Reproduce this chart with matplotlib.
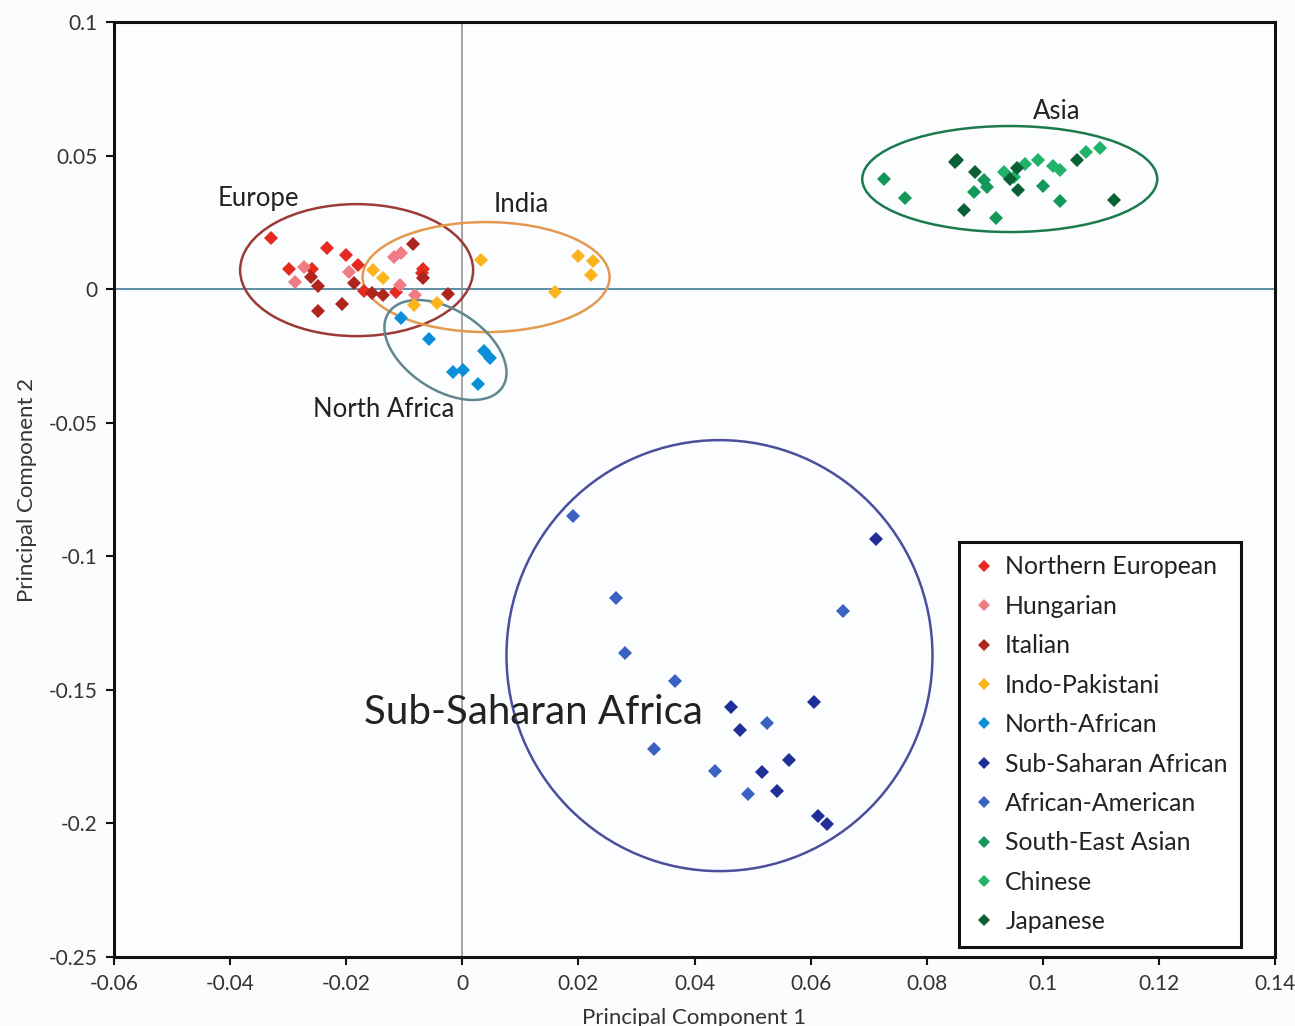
import matplotlib
matplotlib.use("Agg")
import matplotlib.pyplot as plt
from matplotlib.patches import Ellipse
from matplotlib.lines import Line2D
from matplotlib.transforms import ScaledTranslation

plt.rcParams['font.family'] = ['Lato', 'DejaVu Sans']

# ---- PCA coordinates per population ----
northern_european_x = [-0.0329, -0.0233, -0.0200, -0.0179, -0.0299, -0.0259, -0.0067, -0.0170, -0.0114, -0.0070]
northern_european_y = [0.0191, 0.0155, 0.0127, 0.0090, 0.0077, 0.0077, 0.0077, -0.0006, -0.0010, 0.0060]

hungarian_x = [-0.0118, -0.0105, -0.0273, -0.0288, -0.0196, -0.0107, -0.0081]
hungarian_y = [0.0120, 0.0135, 0.0083, 0.0027, 0.0065, 0.0015, -0.0022]

italian_x = [-0.0085, -0.0068, -0.0249, -0.0186, -0.0156, -0.0136, -0.0025, -0.0207, -0.0248, -0.0260]
italian_y = [0.0167, 0.0042, 0.0011, 0.0021, -0.0014, -0.0022, -0.0020, -0.0056, -0.0082, 0.0045]

indo_pakistani_x = [-0.0154, -0.0137, -0.0084, -0.0044, 0.0032, 0.0200, 0.0226, 0.0222, 0.0159]
indo_pakistani_y = [0.0071, 0.0040, -0.0060, -0.0051, 0.0109, 0.0125, 0.0105, 0.0052, -0.0010]

north_african_x = [-0.0106, -0.0058, 0.0038, 0.0047, -0.0016, 0.0002, 0.0027]
north_african_y = [-0.0110, -0.0187, -0.0231, -0.0257, -0.0312, -0.0301, -0.0356]

sub_saharan_x = [0.0713, 0.0463, 0.0479, 0.0606, 0.0563, 0.0516, 0.0542, 0.0613, 0.0628]
sub_saharan_y = [-0.0937, -0.1566, -0.1649, -0.1545, -0.1761, -0.1807, -0.1878, -0.1972, -0.2004]

african_american_x = [0.0191, 0.0264, 0.0281, 0.0366, 0.0331, 0.0656, 0.0525, 0.0435, 0.0492]
african_american_y = [-0.0850, -0.1158, -0.1364, -0.1466, -0.1720, -0.1206, -0.1624, -0.1803, -0.1891]

south_east_asian_x = [0.0727, 0.0762, 0.0899, 0.0881, 0.0920, 0.1000, 0.1029, 0.0903]
south_east_asian_y = [0.0414, 0.0340, 0.0408, 0.0364, 0.0265, 0.0386, 0.0329, 0.0383]

chinese_x = [0.0933, 0.0970, 0.0992, 0.1018, 0.1029, 0.1075, 0.1098, 0.0950]
chinese_y = [0.0439, 0.0470, 0.0483, 0.0460, 0.0446, 0.0514, 0.0530, 0.0420]

japanese_x = [0.0849, 0.0853, 0.0884, 0.0956, 0.0944, 0.0958, 0.1058, 0.1123, 0.0865]
japanese_y = [0.0477, 0.0485, 0.0439, 0.0452, 0.0414, 0.0371, 0.0483, 0.0333, 0.0296]

populations = ["Northern European", "Hungarian", "Italian", "Indo-Pakistani", "North-African",
               "Sub-Saharan African", "African-American", "South-East Asian", "Chinese", "Japanese"]
pop_x = [northern_european_x, hungarian_x, italian_x, indo_pakistani_x, north_african_x,
         sub_saharan_x, african_american_x, south_east_asian_x, chinese_x, japanese_x]
pop_y = [northern_european_y, hungarian_y, italian_y, indo_pakistani_y, north_african_y,
         sub_saharan_y, african_american_y, south_east_asian_y, chinese_y, japanese_y]
pop_colors = ["#e62a20", "#ef7c84", "#b0241e", "#fbb41c", "#0b8fd8",
              "#202f98", "#3a62c0", "#12995a", "#22b36a", "#0b5f34"]

x_ticks = [-0.06, -0.04, -0.02, 0, 0.02, 0.04, 0.06, 0.08, 0.1, 0.12, 0.14]
x_tick_labels = ["-0.06", "-0.04", "-0.02", "0", "0.02", "0.04", "0.06", "0.08", "0.1", "0.12", "0.14"]
y_ticks = [-0.25, -0.2, -0.15, -0.1, -0.05, 0, 0.05, 0.1]
y_tick_labels = ["-0.25", "-0.2", "-0.15", "-0.1", "-0.05", "0", "0.05", "0.1"]

# ---- cluster outlines: data-space centre, size in inches, angle ----
regions = [
    dict(name="Europe", center=(-0.0182, 0.0071), w=2.33, h=1.32, angle=0, color="#9c3b36",
         label_xy=(-0.0351, 0.0341), fs=18.5),
    dict(name="India", center=(0.0041, 0.0045), w=2.47, h=1.10, angle=0, color="#e39a4e",
         label_xy=(0.0102, 0.0318), fs=18.5),
    dict(name="North Africa", center=(-0.0029, -0.0228), w=1.36, h=0.80, angle=-33, color="#62868e",
         label_xy=(-0.0136, -0.0449), fs=18.5),
    dict(name="Asia", center=(0.0943, 0.0412), w=2.95, h=1.06, angle=0, color="#1c7a4c",
         label_xy=(0.1023, 0.0666), fs=18.5),
    dict(name="Sub-Saharan Africa", center=(0.0443, -0.1372), w=4.26, h=4.31, angle=0, color="#4a4f9c",
         label_xy=(0.0122, -0.1584), fs=29),
]

fig = plt.figure(figsize=(12.95, 10.26), dpi=100, facecolor="#fbfcfe")
ax = fig.add_axes([0.088, 0.0673, 0.8966, 0.9113])
ax.set_facecolor("#fcfdff")

ax.set_xlim(-0.06, 0.14)
ax.set_ylim(-0.25, 0.1)

ax.axhline(0, color="#5c8fa6", lw=1.4, zorder=1)
ax.axvline(0, color="#8c8c8c", lw=1.1, zorder=1)

for name, xs, ys, c in zip(populations, pop_x, pop_y, pop_colors):
    ax.plot(xs, ys, linestyle="none", marker="D", markersize=7.2, color=c,
            markeredgewidth=0, zorder=3, label=name)

for r in regions:
    tr = fig.dpi_scale_trans + ScaledTranslation(r["center"][0], r["center"][1], ax.transData)
    ax.add_patch(Ellipse((0, 0), r["w"], r["h"], angle=r["angle"], transform=tr,
                         fill=False, edgecolor=r["color"], lw=1.8, zorder=2))
    ax.text(r["label_xy"][0], r["label_xy"][1], r["name"], fontsize=r["fs"], color="#222222",
            ha="center", va="center", zorder=4)

ax.set_xticks(x_ticks)
ax.set_xticklabels(x_tick_labels)
ax.set_yticks(y_ticks)
ax.set_yticklabels(y_tick_labels)
ax.tick_params(direction="out", length=6, width=1.5, labelsize=15, colors="#111111",
               labelcolor="#333333", pad=6)

for s in ax.spines.values():
    s.set_linewidth(2.2)
    s.set_color("#111111")

ax.set_xlabel("Principal Component 1", fontsize=16, color="#333333", labelpad=10)
ax.set_ylabel("Principal Component 2", fontsize=16, color="#333333", labelpad=8)

handles = [Line2D([], [], linestyle="none", marker="D", markersize=6, color=c, markeredgewidth=0)
           for c in pop_colors]
leg = ax.legend(handles, populations, loc="upper left", bbox_to_anchor=(0.728, 0.444),
                borderaxespad=0, fontsize=17.9, frameon=True, fancybox=False,
                edgecolor="#111111", facecolor="#ffffff", framealpha=1,
                labelspacing=0.66, handlelength=0.9, handletextpad=0.4, borderpad=0.55)
leg.get_frame().set_linewidth(2.2)
for t in leg.get_texts():
    t.set_color("#222222")

fig.savefig("out.png", dpi=100, facecolor=fig.get_facecolor())
